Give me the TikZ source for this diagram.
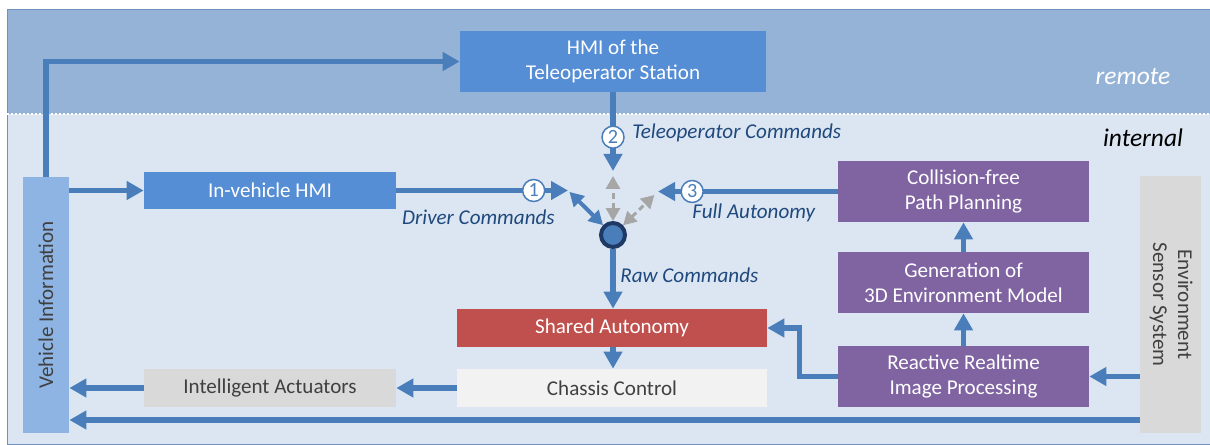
\documentclass[tikz,border=0pt]{standalone}
\usepackage{fontspec}
\setmainfont{Carlito}
\usetikzlibrary{arrows.meta}
\definecolor{remoteband}{HTML}{95B3D7}
\definecolor{internalband}{HTML}{DCE6F2}
\definecolor{framecol}{HTML}{7090C0}
\definecolor{hmiblue}{HTML}{558ED5}
\definecolor{infoblue}{HTML}{8EB4E3}
\definecolor{planpurple}{HTML}{8064A2}
\definecolor{sharedred}{HTML}{C0504D}
\definecolor{actgray}{HTML}{D9D9D9}
\definecolor{chassisgray}{HTML}{F2F2F2}
\definecolor{arrowblue}{HTML}{4A7EBB}
\definecolor{labelblue}{HTML}{1F497D}
\definecolor{junctionnavy}{HTML}{1F3864}
\definecolor{ghostgray}{HTML}{A6A6A6}
\definecolor{textgray}{HTML}{404040}
\tikzset{
  box/.style={rectangle, inner sep=0pt, align=center, text=white, font=\fontsize{12}{14.2}\selectfont},
  flow/.style={line width=0.11cm, color=arrowblue, -{Triangle[length=0.34cm,width=0.36cm]}},
  twoway/.style={line width=0.08cm, color=arrowblue, {Triangle[length=0.28cm,width=0.3cm]}-{Triangle[length=0.28cm,width=0.3cm]}},
  ghost/.style={line width=0.06cm, color=ghostgray, dash pattern=on 0.12cm off 0.08cm, {Triangle[length=0.26cm,width=0.28cm]}-{Triangle[length=0.26cm,width=0.28cm]}},
  cmdlabel/.style={inner sep=0pt, text=labelblue, font=\fontsize{12}{13}\selectfont\itshape},
  numcircle/.style={circle, draw=arrowblue, line width=0.03cm, fill=white, text=arrowblue, minimum size=0.44cm, inner sep=0pt, font=\fontsize{11.5}{12}\selectfont},
  zonelabel/.style={inner sep=0pt, font=\fontsize{14.5}{16}\selectfont\itshape},
}

\begin{document}
\begin{tikzpicture}[x=0.02cm, y=-0.02cm]
		%%%%% START %%%%%
		\useasboundingbox (0, 0) rectangle (1210, 445);
		
		% remote and internal zones
		\fill[remoteband] (7, 9) rectangle (1210, 114);
		\fill[internalband] (7, 114) rectangle (1210, 444);
		\draw[framecol, line width=0.4pt] (1210, 9) -- (7, 9) -- (7, 444) -- (1210, 444);
		\draw[white, line width=0.04cm, dash pattern=on 0.04cm off 0.04cm] (7, 114) -- (1210, 114);
		\node[zonelabel, text=white] (remote) at (1133, 77) {remote};
		\node[zonelabel, text=black] (internal) at (1143, 138) {internal};
		
		% boxes
		\node[box, fill=hmiblue, minimum width=6.12cm, minimum height=1.22cm] (hmitele) at (613, 61.5) {HMI of the\\Teleoperator Station};
		\node[box, fill=infoblue, text=textgray, minimum width=0.92cm, minimum height=5.12cm] (vinfo) at (46, 305) {\rotatebox{90}{Vehicle Information}};
		\node[box, fill=hmiblue, minimum width=5.04cm, minimum height=0.74cm] (hmiin) at (270, 190.5) {In-vehicle HMI};
		
		\node[box, fill=planpurple, minimum width=5.02cm, minimum height=1.22cm] (collision) at (963.5, 191.5) {Collision-free\\Path Planning};
		\node[box, fill=planpurple, minimum width=5.02cm, minimum height=1.22cm] (generation) at (963.5, 282.5) {Generation of\\3D Environment Model};
		\node[box, fill=planpurple, minimum width=5.02cm, minimum height=1.22cm] (reactive) at (963.5, 376.5) {Reactive Realtime\\Image Processing};
		\node[box, fill=actgray, text=textgray, minimum width=1.22cm, minimum height=5.14cm] (sensor) at (1170.5, 304.5) {\rotatebox{-90}{\begin{tabular}{@{}c@{}}Environment\\Sensor System\end{tabular}}};
		
		\node[box, fill=sharedred, minimum width=6.2cm, minimum height=0.76cm] (shared) at (612, 328) {Shared Autonomy};
		\node[box, fill=chassisgray, text=textgray, minimum width=6.2cm, minimum height=0.76cm] (chassis) at (612, 388) {Chassis Control};
		\node[box, fill=actgray, text=textgray, minimum width=5.04cm, minimum height=0.76cm] (act) at (270, 388) {Intelligent Actuators};
		
		% command junction
		\node[circle, fill=arrowblue, draw=junctionnavy, line width=0.08cm, minimum size=0.48cm, inner sep=0pt] (junc) at (613, 235) {};
		\coordinate (p1) at (568, 190.5);
		\coordinate (p2) at (613, 171);
		\coordinate (p3) at (658, 191.5);
		
		% command inputs
		\draw[flow] (hmiin.east) -- node[numcircle, pos=0.8] (n1) {1} (p1);
		\draw[flow] (hmitele.south) -- node[numcircle, pos=0.57] (n2) {2} (p2);
		\draw[flow] (collision.west) -- node[numcircle, pos=0.81] (n3) {3} (p3);
		\draw[twoway, shorten >=0.04cm] (junc) -- (p1);
		\draw[ghost, shorten >=0.1cm] (junc) -- (p2);
		\draw[ghost, shorten >=0.1cm] (junc) -- (p3);
		
		\node[cmdlabel, anchor=east] (drivercmd) at (555, 217) {Driver Commands};
		\node[cmdlabel, anchor=west] (telecmd) at (632, 133) {Teleoperator Commands};
		\node[cmdlabel, anchor=west] (fullauto) at (692, 213) {Full Autonomy};
		\node[cmdlabel, anchor=west] (rawcmd) at (620, 275) {Raw Commands};
		
		% vehicle side
		\draw[flow] (vinfo.north) |- (hmitele.west);
		\draw[flow] (vinfo.east |- hmiin.west) -- (hmiin.west);
		\draw[flow] (junc.south) -- (junc.south |- shared.north);
		\draw[flow] (shared.south -| junc) -- (chassis.north -| junc);
		\draw[flow] (chassis.west) -- (act.east);
		\draw[flow] (act.west) -- (vinfo.east |- act.west);
		
		% perception chain
		\draw[flow] (sensor.west |- reactive.east) -- (reactive.east);
		\draw[flow] (reactive.north) -- (generation.south);
		\draw[flow] (generation.north) -- (collision.south);
		\draw[flow] (reactive.west) -- ++(-38, 0) |- (shared.east);
		\draw[flow] (sensor.west |- 0, 420) -- (vinfo.east |- 0, 420);
		
		%%%%% END %%%%%
	\end{tikzpicture}
\end{document}
